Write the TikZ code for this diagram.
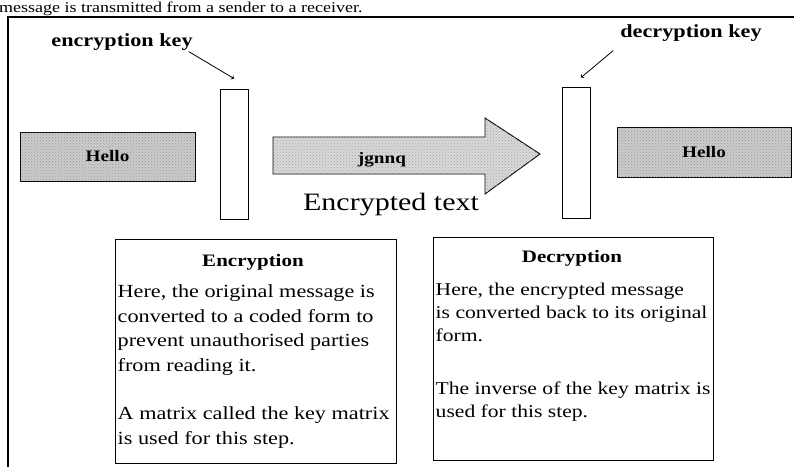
\documentclass[tikz,border=0pt]{standalone}
\usepackage{fontspec}
\setmainfont{Liberation Serif}[FakeStretch=1.2]
\usetikzlibrary{positioning, patterns}

\begin{document}
\begin{tikzpicture}[x=1pt, y=-1pt,
    keybox/.style={draw, line width=0.9pt, minimum width=28pt, minimum height=130pt, inner sep=0pt},
    msgbox/.style={draw, line width=0.9pt, fill=gray!40, postaction={pattern=crosshatch dots, pattern color=gray!80},
        minimum width=175pt, minimum height=49pt, inner sep=0pt, font=\fontsize{16}{19}\selectfont\bfseries},
    infobox/.style={draw, line width=1pt, minimum width=281pt, minimum height=224pt, inner sep=0pt},
    infotitle/.style={font=\fontsize{17.5}{20}\selectfont\bfseries, inner sep=0pt},
    infotext/.style={align=left, inner sep=0pt, font=\fontsize{18.5}{24.5}\selectfont},
    keylabel/.style={font=\fontsize{18.5}{21}\selectfont\bfseries, inner sep=0pt}]
    \useasboundingbox (0,0) rectangle (794,466);

    % caption at the top of the page
    \node[anchor=west, inner sep=0pt, font=\fontsize{15}{17}\selectfont] (caption) at (-1,9) {message is transmitted from a sender to a receiver.};

    % frame
    \draw[line width=1.2pt] (8,470) -- (8,17) -- (800,17);

    % keys
    \node[keybox] (enckey) at (234,154) {};
    \node[keybox, minimum height=131pt] (deckey) at (576,152.5) {};
    \node[keylabel] (enclbl) at (122,42) {encryption key};
    \node[keylabel] (declbl) at (691,33) {decryption key};
    \draw[->, line width=0.8pt] ([xshift=-4pt, yshift=-1pt]enclbl.south east) -- ([yshift=10pt]enckey.north);
    \draw[->, line width=0.8pt] ([xshift=-7pt, yshift=-9pt]declbl.south west) -- ([xshift=5pt, yshift=9pt]deckey.north);

    % plain and coded messages
    \node[msgbox] (plain) at (107.5,156.5) {Hello};
    \node[msgbox, minimum width=174pt, minimum height=50pt] (result) at (704,152) {Hello};

    \coordinate (tip) at (540,154);
    \draw[line width=0.9pt, fill=gray!30, postaction={pattern=crosshatch dots, pattern color=gray!70}]
        (273,137) -- (485,137) -- (485,118) -- (tip) -- (485,194) -- (485,174) -- (273,174) -- cycle;
    \node[font=\fontsize{16}{19}\selectfont\bfseries, inner sep=0pt] (coded) at (382,160) {jgnnq};
    \node[font=\fontsize{25}{29}\selectfont, inner sep=0pt] (codedlbl) at (391,205) {Encrypted text};

    % descriptions
    \node[infobox] (encinfo) at (255.5,351) {};
    \node[infotitle] (enctitle) at (253,262) {Encryption};
    \node[infotext, below right=46pt and 3pt of encinfo.north west] (enctext)
        {Here, the original message is\\
         converted to a coded form to\\
         prevent unauthorised parties\\
         from reading it.\\[24pt]
         A matrix called the key matrix\\
         is used for this step.};

    \node[infobox, minimum width=280pt, minimum height=223pt] (decinfo) at (573,348.5) {};
    \node[infotitle] (dectitle) at (572,258) {Decryption};
    \node[infotext, font=\fontsize{18}{23}\selectfont, below right=46pt and 3pt of decinfo.north west] (dectext)
        {Here, the encrypted message\\
         is converted back to its original\\
         form.\\[30pt]
         The inverse of the key matrix is\\
         used for this step.};
\end{tikzpicture}
\end{document}
